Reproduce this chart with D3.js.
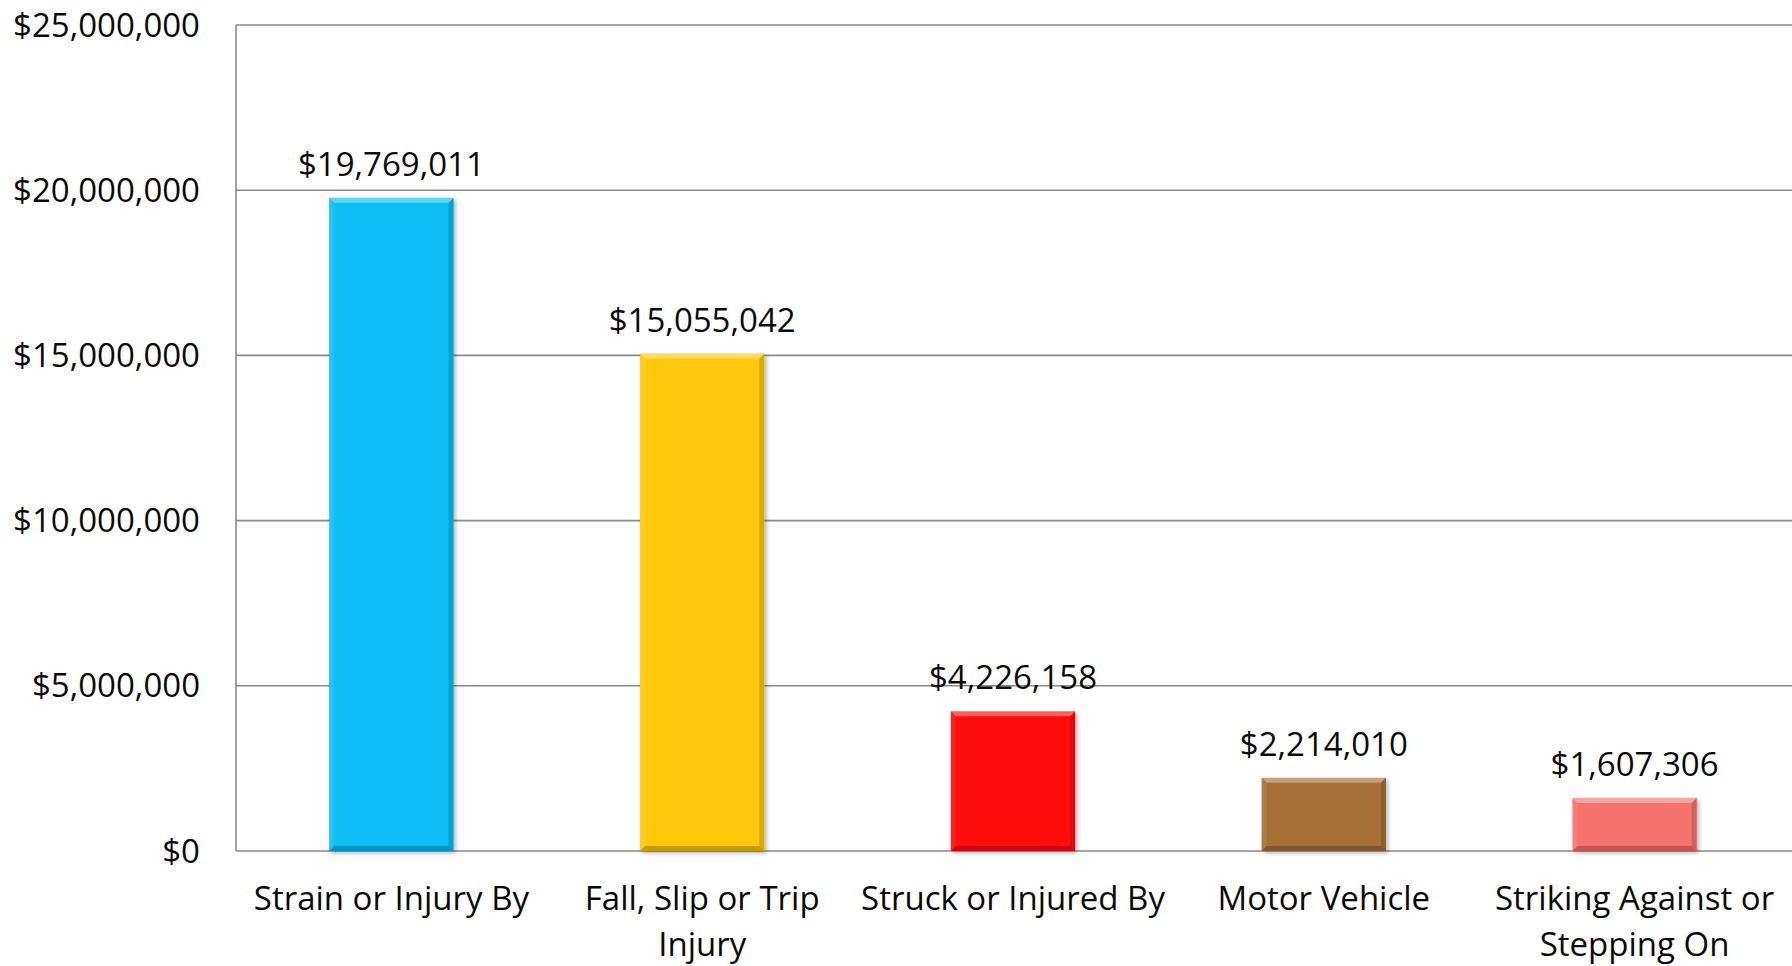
<html>
<head>
<style>
  body { margin: 0; background: #fff; }
  text { font-family: "Open Sans", sans-serif; fill: #0a0a0a; }
</style>
</head>
<body>
<script src="https://d3js.org/d3.v7.min.js"></script>
<script>
// chart data
var categories = ["Strain or Injury By", "Fall, Slip or Trip\nInjury", "Struck or Injured By", "Motor Vehicle", "Striking Against or\nStepping On"];
var costs = [19769011, 15055042, 4226158, 2214010, 1607306];
var barColors = ["#08bdf6", "#ffc80c", "#ff0a0a", "#a66f38", "#f5736c"];
var yTicks = [0, 5000000, 10000000, 15000000, 20000000, 25000000];

var width = 1792, height = 966;
var margin = {left: 236, right: 2, top: 25, bottom: 115};
var fontSize = 33;
var bevel = 5;

var svg = d3.select("body").append("svg")
  .attr("width", width)
  .attr("height", height);

var defs = svg.append("defs");
defs.append("filter").attr("id", "shadow")
  .attr("x", "-20%").attr("y", "-20%").attr("width", "140%").attr("height", "140%")
  .append("feDropShadow")
  .attr("dx", 2).attr("dy", 2).attr("stdDeviation", 2)
  .attr("flood-color", "#000").attr("flood-opacity", 0.3);

var x = d3.scaleBand()
  .domain(categories)
  .range([margin.left, width - margin.right])
  .paddingInner(0.6)
  .paddingOuter(0.3);

var y = d3.scaleLinear()
  .domain([0, 25000000])
  .range([height - margin.bottom, margin.top]);

var money = function(d){ return "$" + d3.format(",")(d); };

// gridlines
svg.append("g").selectAll("line")
  .data(yTicks)
  .enter().append("line")
  .attr("x1", margin.left)
  .attr("x2", width)
  .attr("y1", function(d){ return y(d); })
  .attr("y2", function(d){ return y(d); })
  .attr("stroke", "#8a8a8a")
  .attr("stroke-width", 1.6);

// y axis line
svg.append("line")
  .attr("x1", margin.left).attr("x2", margin.left)
  .attr("y1", y(25000000)).attr("y2", y(0))
  .attr("stroke", "#8a8a8a")
  .attr("stroke-width", 1.6);

// y tick labels
svg.append("g").selectAll("text")
  .data(yTicks)
  .enter().append("text")
  .attr("x", 200)
  .attr("y", function(d){ return y(d); })
  .attr("dy", "0.35em")
  .attr("text-anchor", "end")
  .style("font-size", fontSize + "px")
  .text(money);

// bars with bevel
var bars = svg.append("g").selectAll("g")
  .data(costs)
  .enter().append("g")
  .attr("transform", function(d, i){ return "translate(" + x(categories[i]) + "," + y(d) + ")"; });

var bw = x.bandwidth();

bars.append("rect")
  .attr("width", bw)
  .attr("height", function(d){ return y(0) - y(d); })
  .attr("fill", function(d, i){ return barColors[i]; })
  .attr("filter", "url(#shadow)");

function bevelPath(side){
  return function(d){
    var h = y(0) - y(d), b = bevel;
    if (side == "top") return "M0,0L" + bw + ",0L" + (bw-b) + "," + b + "L" + b + "," + b + "Z";
    if (side == "left") return "M0,0L" + b + "," + b + "L" + b + "," + (h-b) + "L0," + h + "Z";
    if (side == "right") return "M" + bw + ",0L" + bw + "," + h + "L" + (bw-b) + "," + (h-b) + "L" + (bw-b) + "," + b + "Z";
    return "M0," + h + "L" + b + "," + (h-b) + "L" + (bw-b) + "," + (h-b) + "L" + bw + "," + h + "Z";
  };
}
bars.append("path").attr("d", bevelPath("top")).attr("fill", "#fff").attr("fill-opacity", 0.35);
bars.append("path").attr("d", bevelPath("left")).attr("fill", "#fff").attr("fill-opacity", 0.08);
bars.append("path").attr("d", bevelPath("right")).attr("fill", "#000").attr("fill-opacity", 0.15);
bars.append("path").attr("d", bevelPath("bottom")).attr("fill", "#000").attr("fill-opacity", 0.22);

// value labels
svg.append("g").selectAll("text")
  .data(costs)
  .enter().append("text")
  .attr("x", function(d, i){ return x(categories[i]) + bw / 2; })
  .attr("y", function(d){ return y(d) - 22; })
  .attr("text-anchor", "middle")
  .style("font-size", fontSize + "px")
  .text(money);

// category labels
var cat = svg.append("g").selectAll("text")
  .data(categories)
  .enter().append("text")
  .attr("x", function(d){ return x(d) + bw / 2; })
  .attr("y", 910)
  .attr("text-anchor", "middle")
  .style("font-size", fontSize + "px");

cat.selectAll("tspan")
  .data(function(d){ return d.split("\n").map(function(t){ return {t: t, c: d}; }); })
  .enter().append("tspan")
  .attr("x", function(d){ return x(d.c) + bw / 2; })
  .attr("dy", function(d, i){ return i == 0 ? 0 : 46; })
  .text(function(d){ return d.t; });
</script>
</body>
</html>
